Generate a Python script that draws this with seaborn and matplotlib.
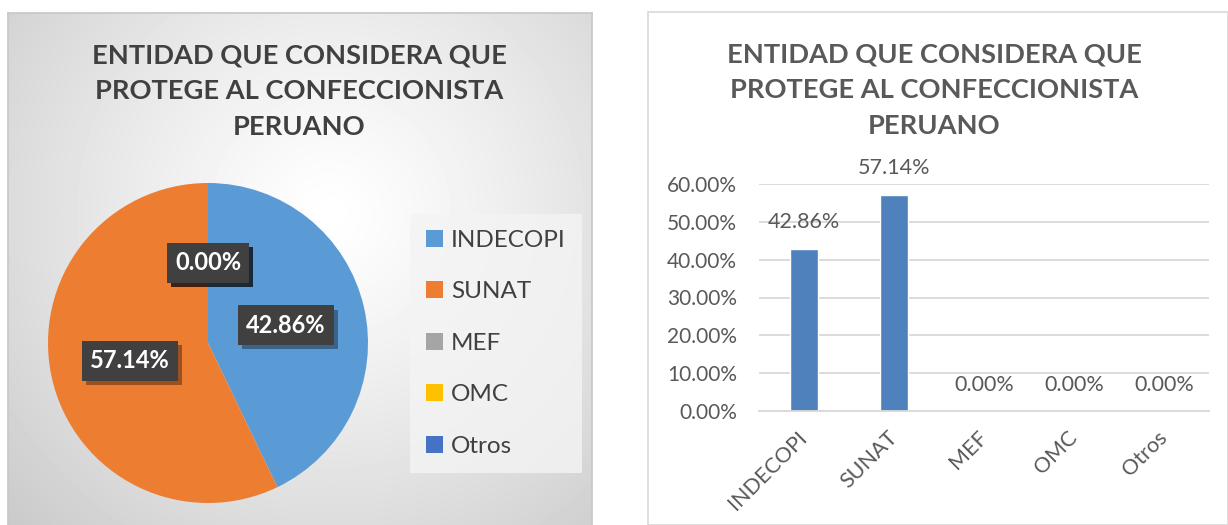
import numpy as np
import matplotlib
matplotlib.use('Agg')
import matplotlib.pyplot as plt
import matplotlib.patheffects as pe
import seaborn as sns
from matplotlib.patches import Rectangle

# datos del grafico
categorias = ['INDECOPI', 'SUNAT', 'MEF', 'OMC', 'Otros']
porcentajes = [42.86, 57.14, 0.0, 0.0, 0.0]
colores_pie = ['#5B9BD5', '#ED7D31', '#A5A5A5', '#FFC000', '#4472C4']
titulo = 'ENTIDAD QUE CONSIDERA QUE\nPROTEGE AL CONFECCIONISTA\nPERUANO'
ticks_y = [0, 10, 20, 30, 40, 50, 60]

sns.set_theme(style='white')
plt.rcParams['font.family'] = ['Lato', 'DejaVu Sans']

W, H = 1228, 525
fig = plt.figure(figsize=(W / 100, H / 100), dpi=100)
fig.patch.set_facecolor('white')


def frac(x0, y0, x1, y1):
    # caja en pixeles (origen arriba-izquierda) -> rect en fraccion de figura
    return [x0 / W, 1 - y1 / H, (x1 - x0) / W, (y1 - y0) / H]


# ---- panel izquierdo: fondo con degradado radial ----
bg = fig.add_axes(frac(8, 13, 592, 525))
ny, nx = 512, 584
yy, xx = np.mgrid[0:ny, 0:nx]
r = np.hypot(xx - 322, yy - 200) / 450
g = 1 - 0.21 * np.clip(r, 0, 1) ** 1.2
bg.imshow(g, cmap='gray', vmin=0, vmax=1, extent=[0, nx, ny, 0], aspect='auto')
bg.set_xticks([])
bg.set_yticks([])
for s in bg.spines.values():
    s.set_color('#c8c8c8')
bg.spines['bottom'].set_visible(False)

fig.text(299 / W, 1 - 91 / H, titulo, ha='center', va='center', fontsize=19.6,
         fontweight='bold', color='#404040', linespacing=1.58)

ax1 = fig.add_axes(frac(48, 183, 368, 503))
wedges, txts, pcts = ax1.pie(porcentajes, colors=colores_pie, startangle=90,
                             counterclock=False, autopct='%.2f%%', pctdistance=0.5,
                             textprops=dict(color='white', fontweight='bold', fontsize=17),
                             wedgeprops=dict(linewidth=0))
ax1.set_xlim(-1, 1)
ax1.set_ylim(-1, 1)
for t in pcts:
    t.set_bbox(dict(boxstyle='square,pad=0.35', fc='#404040', ec='none'))
    t.get_bbox_patch().set_path_effects(
        [pe.SimplePatchShadow(offset=(3, -3), shadow_rgbFace='black', alpha=0.35), pe.Normal()])

leg = ax1.legend(wedges, categorias, loc='upper left',
                 bbox_to_anchor=(410 / W, 1 - 214 / H), bbox_transform=fig.transFigure,
                 frameon=True, fancybox=False, fontsize=17.5, handlelength=0.7,
                 handleheight=0.7, labelspacing=1.25, handletextpad=0.33,
                 borderpad=0.66, borderaxespad=0)
leg.get_frame().set_facecolor('#f4f4f4')
leg.get_frame().set_edgecolor('none')
for t in leg.get_texts():
    t.set_color('#404040')

# ---- panel derecho: barras ----
fig.add_artist(Rectangle((648 / W, 0), (W - 648) / W, 1 - 12 / H, transform=fig.transFigure,
                         facecolor='white', edgecolor='#d9d9d9', lw=1.2, zorder=0))
fig.text(934 / W, 1 - 90 / H, titulo, ha='center', va='center', fontsize=19.6,
         fontweight='bold', color='#595959', linespacing=1.58)

ax2 = fig.add_axes(frac(759, 184, 1209, 411))
ax2.patch.set_alpha(0)
sns.barplot(x=categorias, y=porcentajes, color='#4F81BD', saturation=1, width=0.31, ax=ax2)
ax2.set_ylim(0, 60)
ax2.set_xlim(-0.5, 4.5)
ax2.set_yticks(ticks_y)
ax2.set_yticklabels([f'{v:.2f}%' for v in ticks_y])
ax2.yaxis.grid(True, color='#d9d9d9', lw=1.3)
ax2.set_axisbelow(True)
for s in ax2.spines.values():
    s.set_visible(False)
ax2.spines['bottom'].set_visible(True)
ax2.spines['bottom'].set_color('#d9d9d9')
ax2.spines['bottom'].set_linewidth(1.3)
ax2.tick_params(axis='y', length=0, labelsize=15, labelcolor='#595959', pad=16)
ax2.tick_params(axis='x', length=0, labelsize=15.5, labelcolor='#595959', pad=17)
ax2.set_xlabel('')
ax2.set_ylabel('')
for lab in ax2.get_xticklabels():
    lab.set_rotation(45)
    lab.set_ha('right')
    lab.set_va('center')
    lab.set_rotation_mode('anchor')

for i, v in enumerate(porcentajes):
    ax2.annotate(f'{v:.2f}%', (i, v), xytext=(0, 19), textcoords='offset points',
                 ha='center', va='center', fontsize=15.5, color='#595959')

fig.savefig('out.png', dpi=100)
